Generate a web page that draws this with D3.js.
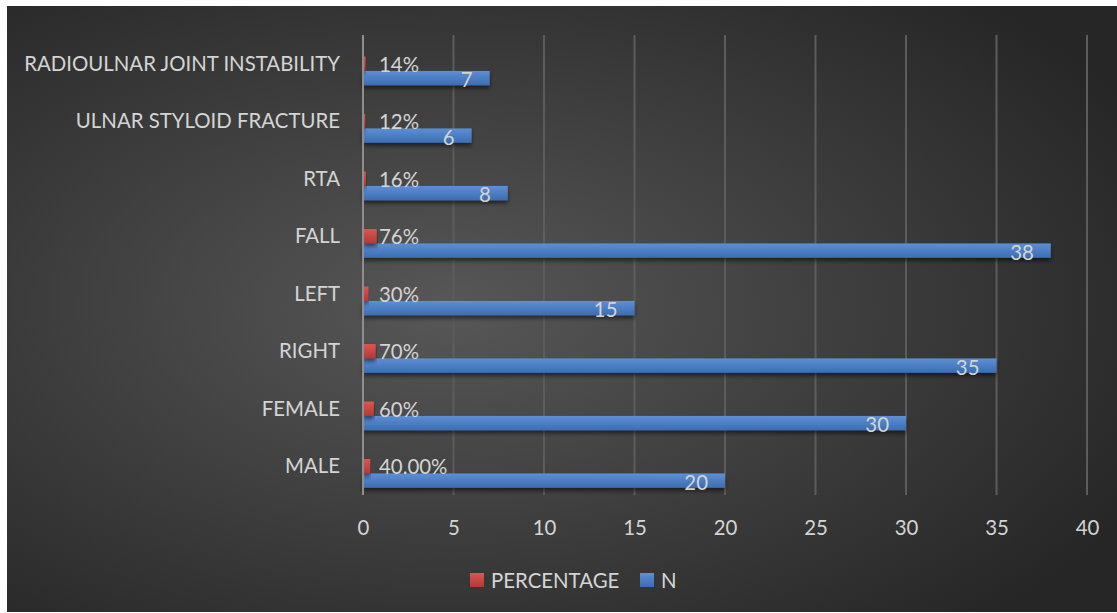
<!DOCTYPE html>
<html>
<head>
<meta charset="utf-8">
<script src="https://cdn.jsdelivr.net/npm/d3@7"></script>
<style>
  html, body { margin: 0; padding: 0; background: #fff; }
  svg { display: block; }
  text { font-family: Lato, "Open Sans", sans-serif; fill: #d4d4d4; }
</style>
</head>
<body>
<div id="chart"></div>
<script>
// categories, top to bottom
var categories = ["RADIOULNAR JOINT INSTABILITY", "ULNAR STYLOID FRACTURE", "RTA", "FALL", "LEFT", "RIGHT", "FEMALE", "MALE"];
var nValues = [7, 6, 8, 38, 15, 35, 30, 20];
var pctValues = [0.14, 0.12, 0.16, 0.76, 0.30, 0.70, 0.60, 0.40];
var pctLabels = ["14%", "12%", "16%", "76%", "30%", "70%", "60%", "40.00%"];
var xTicks = [0, 5, 10, 15, 20, 25, 30, 35, 40];
// third slot is an empty series in the source workbook
var slots = ["EMPTY", "PERCENTAGE", "N"];

var W = 1117, H = 613;
var fs = "20.4px";
var svg = d3.select("#chart").append("svg")
  .attr("width", W).attr("height", H);

var defs = svg.append("defs");

var bg = defs.append("radialGradient").attr("id", "bg")
  .attr("cx", "40%").attr("cy", "50%").attr("r", "70%");
bg.append("stop").attr("offset", "0%").attr("stop-color", "#575757");
bg.append("stop").attr("offset", "100%").attr("stop-color", "#262626");

var gBlue = defs.append("linearGradient").attr("id", "gBlue")
  .attr("x1", 0).attr("y1", 0).attr("x2", 0).attr("y2", 1);
gBlue.append("stop").attr("offset", "0%").attr("stop-color", "#5e8fd4");
gBlue.append("stop").attr("offset", "100%").attr("stop-color", "#3b6db3");

var gRed = defs.append("linearGradient").attr("id", "gRed")
  .attr("x1", 0).attr("y1", 0).attr("x2", 0).attr("y2", 1);
gRed.append("stop").attr("offset", "0%").attr("stop-color", "#dc5652");
gRed.append("stop").attr("offset", "100%").attr("stop-color", "#b33935");

var shadow = defs.append("filter").attr("id", "shadow")
  .attr("x", "-5%").attr("y", "-30%").attr("width", "110%").attr("height", "180%");
shadow.append("feDropShadow").attr("dx", 0).attr("dy", 3).attr("stdDeviation", 2)
  .attr("flood-color", "#000").attr("flood-opacity", 0.55);

// background
svg.append("rect")
  .attr("x", 7).attr("y", 6).attr("width", W - 7).attr("height", 606)
  .attr("fill", "url(#bg)");

var x = d3.scaleLinear().domain([0, 40]).range([363, 1087]);
var y = d3.scaleBand().domain(categories).range([35, 495]);
var ySub = d3.scaleBand().domain(slots).range([0, y.bandwidth()]).paddingOuter(0.5);

// gridlines
svg.append("g")
  .selectAll("line")
  .data(xTicks.slice(1))
  .enter()
  .append("line")
  .attr("x1", function(d) { return x(d); })
  .attr("x2", function(d) { return x(d); })
  .attr("y1", 35).attr("y2", 495)
  .attr("stroke", "#5c5c5c")
  .attr("stroke-width", 2);

// bars
var rows = svg.append("g").selectAll("g")
  .data(categories)
  .enter()
  .append("g")
  .attr("transform", function(d) { return "translate(0," + y(d) + ")"; });

rows.append("rect")
  .attr("x", x(0))
  .attr("y", ySub("N"))
  .attr("width", function(d, i) { return x(nValues[i]) - x(0); })
  .attr("height", ySub.bandwidth())
  .attr("fill", "url(#gBlue)")
  .attr("filter", "url(#shadow)");

rows.append("rect")
  .attr("x", x(0))
  .attr("y", ySub("PERCENTAGE"))
  .attr("width", function(d, i) { return x(pctValues[i]) - x(0); })
  .attr("height", ySub.bandwidth())
  .attr("fill", "url(#gRed)")
  .attr("filter", "url(#shadow)");

// category axis line
svg.append("line")
  .attr("x1", x(0)).attr("x2", x(0))
  .attr("y1", 35).attr("y2", 495)
  .attr("stroke", "#8e8e8e")
  .attr("stroke-width", 2);

// data labels (percent labels all sit just past the tallest small bar)
rows.append("text")
  .attr("x", function(d, i) { return Math.max(x(pctValues[i]) + 2, x(0) + 16); })
  .attr("y", ySub("PERCENTAGE") + ySub.bandwidth() / 2 + 8)
  .attr("font-size", fs)
  .text(function(d, i) { return pctLabels[i]; });

rows.append("text")
  .attr("x", function(d, i) { return x(nValues[i]) - 17; })
  .attr("y", ySub("N") + ySub.bandwidth() / 2 + 9)
  .attr("text-anchor", "end")
  .attr("font-size", fs)
  .text(function(d, i) { return nValues[i]; });

// category labels
svg.append("g").selectAll("text")
  .data(categories)
  .enter()
  .append("text")
  .attr("x", 340)
  .attr("y", function(d) { return y(d) + 35.5; })
  .attr("text-anchor", "end")
  .attr("font-size", fs)
  .text(function(d) { return d; });

// x axis tick labels
var xAxis = d3.axisBottom(x).tickValues(xTicks).tickSize(0).tickPadding(0);
var ax = svg.append("g").attr("transform", "translate(0,535)").call(xAxis);
ax.select(".domain").remove();
ax.selectAll("text")
  .attr("dy", 0)
  .attr("font-size", fs)
  .attr("font-family", "Lato, 'Open Sans', sans-serif")
  .attr("fill", "#d4d4d4");

// legend
var legend = [
  { name: "PERCENTAGE", fill: "url(#gRed)", x: 470 },
  { name: "N", fill: "url(#gBlue)", x: 640 }
];
var lg = svg.append("g").selectAll("g")
  .data(legend)
  .enter()
  .append("g")
  .attr("transform", function(d) { return "translate(" + d.x + ",573)"; });
lg.append("rect")
  .attr("width", 14).attr("height", 14)
  .attr("fill", function(d) { return d.fill; });
lg.append("text")
  .attr("x", 21).attr("y", 15)
  .attr("font-size", fs)
  .text(function(d) { return d.name; });
</script>
</body>
</html>
